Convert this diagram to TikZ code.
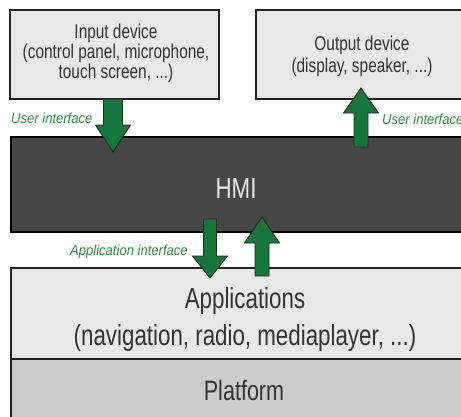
\documentclass[tikz,border=0pt]{standalone}
\usepackage{fontspec}
\setmainfont[FakeStretch=0.77]{Liberation Sans}
\newfontfamily\lblfont[FakeStretch=0.9]{Liberation Sans}
\definecolor{boxfill}{HTML}{E8E8E8}
\definecolor{hmifill}{HTML}{474747}
\definecolor{platfill}{HTML}{CCCCCC}
\definecolor{boxline}{HTML}{222222}
\definecolor{txtgray}{HTML}{333333}
\definecolor{arrowgreen}{HTML}{16773B}
\definecolor{lblgreen}{HTML}{2F8A3F}
\newcommand\blockarrow[6]{%
  \filldraw[garrow] (#1-#5,#2) -- (#1+#5,#2) -- (#1+#5,#3) -- (#1+#6,#3) -- (#1,#4) -- (#1-#6,#3) -- (#1-#5,#3) -- cycle;}
\tikzset{
  box/.style={draw=boxline, line width=1.5pt, inner sep=0pt},
  lightbox/.style={box, fill=boxfill},
  smalltxt/.style={anchor=base, inner sep=0pt, text=txtgray, font=\fontsize{20}{20}\selectfont},
  bigtxt/.style={anchor=base, inner sep=0pt, text=txtgray, font=\fontsize{29}{29}\selectfont},
  lbl/.style={anchor=base west, inner sep=0pt, text=lblgreen, font=\lblfont\itshape\fontsize{14.5}{14.5}\selectfont},
  garrow/.style={fill=arrowgreen, draw=black!85, line width=0.9pt, line join=miter}
}
\begin{document}
\begin{tikzpicture}[x=1pt,y=-1pt]
\useasboundingbox (0,0) rectangle (461,416);
\clip (0,0) rectangle (461,416);
\fill[white] (0,0) rectangle (461,416);
% boxes
\node[lightbox, minimum width=209pt, minimum height=89pt] (inputbox) at (114.5,54.5) {};
\node[lightbox, minimum width=212pt, minimum height=89pt] (outputbox) at (362,54.5) {};
\node[box, fill=hmifill, draw=black, line width=2pt, minimum width=454pt, minimum height=95pt] (hmibox) at (238,184.5) {};
\node[lightbox, minimum width=468pt, minimum height=91pt] (appsbox) at (245,313.5) {};
\node[box, fill=platfill, minimum width=468pt, minimum height=70pt] (platbox) at (245,394) {};
% texts
\node[smalltxt] (in1) at (116,38) {Input device};
\node[smalltxt] (in2) at (116,58) {(control panel, microphone,};
\node[smalltxt] (in3) at (116,78) {touch screen, ...)};
\node[smalltxt] (out1) at (362,50) {Output device};
\node[smalltxt] (out2) at (362,72) {(display, speaker, ...)};
\node[bigtxt, text=boxfill] (hmi) at (236,198) {HMI};
\node[bigtxt] (apps1) at (245,308) {Applications};
\node[bigtxt] (apps2) at (245,345) {(navigation, radio, mediaplayer, ...)};
\node[bigtxt, font=\fontsize{28}{28}\selectfont] (plat) at (244,400) {Platform};
% labels
\node[lbl] (ui1) at (11,123) {User interface};
\node[lbl] (ui2) at (382,124) {User interface};
\node[lbl] (ai) at (70,255) {Application interface};
% arrows
\blockarrow{113}{99}{125}{152}{9.5}{17.5}
\blockarrow{361}{147}{113}{88}{7}{17.5}
\blockarrow{210}{219}{256}{278}{6.5}{17.5}
\blockarrow{262}{276}{243}{217}{7}{17.5}
\end{tikzpicture}
\end{document}
